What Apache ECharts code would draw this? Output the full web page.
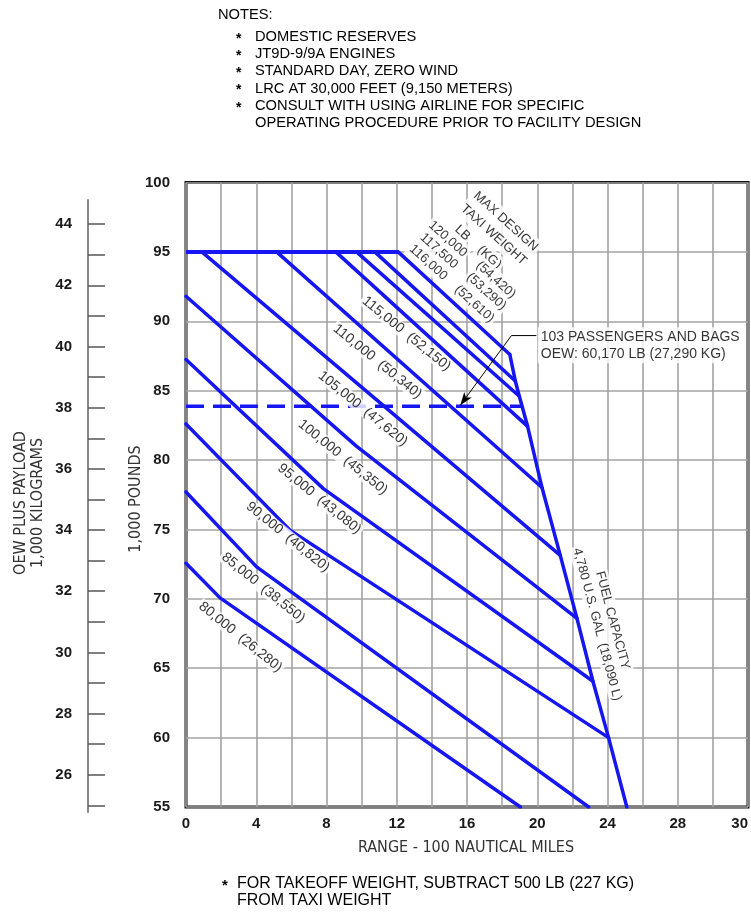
<!DOCTYPE html>
<html>
<head>
<meta charset="utf-8">
<script src="https://cdn.jsdelivr.net/npm/echarts@6/dist/echarts.min.js"></script>
<style>
html,body{margin:0;padding:0;background:#fff;}
#c{width:751px;height:916px;}
</style>
</head>
<body>
<div id="c"></div>
<script>
// ------------------------------------------------------------------
// DATA (range in 100 NM, OEW + payload in 1,000 LB)
// ------------------------------------------------------------------
const rangeLabelValues = [0, 4, 8, 12, 16, 20, 24, 28, 32];
const rangeLabelTexts  = ['0', '4', '8', '12', '16', '20', '24', '28', '30'];
const lbTicks          = [55, 60, 65, 70, 75, 80, 85, 90, 95, 100];
const kgTickValues     = [25, 26, 27, 28, 29, 30, 31, 32, 33, 34, 35, 36, 37, 38, 39, 40, 41, 42, 43, 44];
const kgLabelValues    = [26, 28, 30, 32, 34, 36, 38, 40, 42, 44];

const maxPayload = [[0, 95], [12.08, 95]];
const tw120000 = [[12.08, 95], [18.44, 87.6]];
const tw117500 = [[10.75, 95], [18.75, 85.7]];
const tw116000 = [[9.71, 95], [18.98, 84.6]];
const tw115000 = [[8.53, 95], [19.45, 82.43]];
const tw110000 = [[5.16, 95], [20.27, 78.02]];
const tw105000 = [[0.9, 95], [21.31, 73.13]];
const tw100000 = [[0, 91.8], [9.7, 81.0], [22.26, 68.59]];
const tw95000  = [[0, 87.24], [7.82, 77.94], [23.17, 64.06]];
const tw90000  = [[0, 82.6], [5.92, 74.95], [24.06, 60.0]];
const tw85000  = [[0, 77.7], [4.02, 72.3], [22.93, 55]];
const tw80000  = [[0, 72.56], [1.94, 70.07], [19.04, 55]];
const fuelCapacity = [[18.44, 87.6], [18.75, 85.7], [18.98, 84.6], [19.45, 82.43], [20.27, 78.02],
                      [21.31, 73.13], [22.26, 68.59], [23.17, 64.06], [24.06, 60.0], [25.1, 55]];
const oew103Pax = [[0, 83.88], [19.16, 83.88]];
const paxLeader = [[19.95, 88.97], [18.53, 88.97]];
const paxArrow  = [[18.53, 88.97], [15.62, 83.95]];

const weightLabels = [
  '115,000  (52,150)', '110,000  (50,340)', '105,000  (47,620)', '100,000  (45,350)',
  '95,000  (43,080)', '90,000  (40,820)', '85,000  (38,550)', '80,000  (26,280)'
];
const weightLabelAt = [
  [12.55, 89.1], [10.9, 87.1], [10.07, 83.7], [8.93, 80.2],
  [7.6, 77.2], [5.8, 74.45], [4.4, 70.8], [3.1, 67.25]
];
const maxTaxiTexts = ['MAX DESIGN\nTAXI WEIGHT', 'LB', '(KG)', '120,000', '117,500', '116,000', '(54,420)', '(53,290)', '(52,610)'];
const maxTaxiAt = [[17.86, 96.71], [15.74, 96.36], [17.27, 94.6], [14.91, 95.93], [14.40, 95.07], [13.80, 94.24],
                   [17.64, 92.98], [17.10, 92.15], [16.42, 91.25]];
const fuelText = 'FUEL CAPACITY\n4,780 U.S. GAL  (18,090 L)';
const fuelTextAt = [23.85, 68.3];
const paxText = '103 PASSENGERS AND BAGS\nOEW: 60,170 LB (27,290 KG)';
const paxTextAt = [20.03, 88.27];

const notesTitle = 'NOTES:';
const notesLines = ['DOMESTIC RESERVES', 'JT9D-9/9A ENGINES', 'STANDARD DAY, ZERO WIND',
                    'LRC AT 30,000 FEET (9,150 METERS)', 'CONSULT WITH USING AIRLINE FOR SPECIFIC',
                    'OPERATING PROCEDURE PRIOR TO FACILITY DESIGN'];
const notesBullets = [true, true, true, true, true, false];
const footLines = ['FOR TAKEOFF WEIGHT, SUBTRACT 500 LB (227 KG)', 'FROM TAXI WEIGHT'];

// ------------------------------------------------------------------
const W = 751, H = 916;
const GRID = {left: 186, right: 3, top: 182.5, bottom: 109};
const pxPerLb = (H - GRID.top - GRID.bottom) / 45;
const KG_TOP_PX = 200, KG_BOTTOM_PX = 812, KG_AXIS_X = 88;
const LB_PER_KG = 2.20462;
const kgMax = (100 - (KG_TOP_PX - GRID.top) / pxPerLb) / LB_PER_KG;
const kgMin = (55 - (KG_BOTTOM_PX - (H - GRID.bottom)) / pxPerLb) / LB_PER_KG;

const BLUE = '#1616f2';
const CAD = "'Liberation Sans', Arial, sans-serif";
const NARROW = "'Liberation Sans Narrow', 'DejaVu Sans Condensed', 'Liberation Sans', sans-serif";
const NUM = "'Liberation Sans', Arial, sans-serif";

function blueLine(name, data, extra) {
  return Object.assign({
    name: name, type: 'line', data: data, xAxisIndex: 0, yAxisIndex: 0,
    symbol: 'none', showSymbol: false, silent: true, clip: true,
    lineStyle: {color: BLUE, width: 3.5, cap: 'round', join: 'round'}, z: 3
  }, extra || {});
}

const annData = [];
weightLabels.forEach((t, i) => annData.push({value: weightLabelAt[i], label: {formatter: t, rotate: -39, fontSize: 14}}));
maxTaxiTexts.forEach((t, i) => annData.push({value: maxTaxiAt[i], label: {formatter: t, rotate: -42, fontSize: 13, lineHeight: 18}}));
annData.push({value: fuelTextAt, label: {formatter: fuelText, rotate: -75, fontSize: 13, lineHeight: 16}});
annData.push({value: paxTextAt, label: {formatter: paxText, rotate: 0, fontSize: 14, lineHeight: 17, align: 'left', padding: [1, 2, 1, 3]}});

const NOTE_FONT = '14.7px ' + CAD;
const FOOT_FONT = '16px ' + CAD;
const graphics = [];
graphics.push({type: 'text', x: 218, y: 15, style: {text: notesTitle, font: NOTE_FONT, fill: '#000', verticalAlign: 'middle'}});
notesLines.forEach((t, i) => {
  const y = 36.7 + i * 17.3;
  if (notesBullets[i]) graphics.push({type: 'text', x: 236, y: y + 2, style: {text: '*', font: 'bold 14px ' + CAD, fill: '#000', verticalAlign: 'middle'}});
  graphics.push({type: 'text', x: 255, y: y, style: {text: t, font: NOTE_FONT, fill: '#000', verticalAlign: 'middle'}});
});
graphics.push({type: 'text', x: 222, y: 886, style: {text: '*', font: 'bold 15px ' + CAD, fill: '#000', verticalAlign: 'middle'}});
footLines.forEach((t, i) => graphics.push({type: 'text', x: 237, y: 884 + i * 17, style: {text: t, font: FOOT_FONT, fill: '#000', verticalAlign: 'middle'}}));
graphics.push({type: 'text', x: 21, y: 503, rotation: Math.PI / 2, style: {text: 'OEW PLUS PAYLOAD', font: '16px ' + NARROW, fill: '#333', align: 'center', verticalAlign: 'middle'}});
graphics.push({type: 'text', x: 38, y: 503, rotation: Math.PI / 2, style: {text: '1,000 KILOGRAMS', font: '16px ' + NARROW, fill: '#333', align: 'center', verticalAlign: 'middle'}});
graphics.push({type: 'text', x: 136, y: 499, rotation: Math.PI / 2, style: {text: '1,000 POUNDS', font: '16px ' + NARROW, fill: '#333', align: 'center', verticalAlign: 'middle'}});
graphics.push({type: 'text', x: 466, y: 848, style: {text: 'RANGE - 100 NAUTICAL MILES', font: '16px ' + NARROW, fill: '#333', align: 'center', verticalAlign: 'middle'}});

const option = {
  animation: false,
  backgroundColor: '#fff',
  grid: [
    {left: GRID.left, right: GRID.right, top: GRID.top, bottom: GRID.bottom, show: true,
     borderColor: '#111', borderWidth: 3, backgroundColor: 'transparent', outerBoundsMode: 'none', containLabel: false},
    {left: KG_AXIS_X, width: 10, top: KG_TOP_PX, bottom: H - KG_BOTTOM_PX, show: false, outerBoundsMode: 'none', containLabel: false}
  ],
  xAxis: [
    {type: 'value', gridIndex: 0, min: 0, max: 32, interval: 2,
     axisLine: {show: false}, axisTick: {show: false},
     splitLine: {show: true, lineStyle: {color: '#a3a3a3', width: 1.6}},
     axisLabel: {show: true, customValues: rangeLabelValues, margin: 9, alignMaxLabel: 'right',
                 formatter: v => rangeLabelTexts[rangeLabelValues.indexOf(v)],
                 fontFamily: NUM, fontSize: 15, fontWeight: 'bold', color: '#1a1a1a'}},
    {type: 'value', gridIndex: 1, show: false, min: 0, max: 1}
  ],
  yAxis: [
    {type: 'value', gridIndex: 0, min: 55, max: 100, interval: 5,
     axisLine: {show: false}, axisTick: {show: false},
     splitLine: {show: true, lineStyle: {color: '#a3a3a3', width: 1.6}},
     axisLabel: {show: true, customValues: lbTicks, margin: 16, fontFamily: NUM, fontSize: 15, fontWeight: 'bold', color: '#1a1a1a'}},
    {type: 'value', gridIndex: 1, position: 'left', min: kgMin, max: kgMax,
     axisLine: {show: true, onZero: false, lineStyle: {color: '#888', width: 2}},
     axisTick: {show: true, inside: true, length: 17, customValues: kgTickValues, lineStyle: {color: '#555', width: 1.5}},
     splitLine: {show: false},
     axisLabel: {show: true, customValues: kgLabelValues, margin: 16, fontFamily: NUM, fontSize: 15, fontWeight: 'bold', color: '#1a1a1a'}}
  ],
  graphic: graphics,
  series: [
    blueLine('Max payload', maxPayload, {lineStyle: {color: BLUE, width: 4, cap: 'butt'}}),
    blueLine('120,000', tw120000),
    blueLine('117,500', tw117500),
    blueLine('116,000', tw116000),
    blueLine('115,000', tw115000),
    blueLine('110,000', tw110000),
    blueLine('105,000', tw105000),
    blueLine('100,000', tw100000),
    blueLine('95,000', tw95000),
    blueLine('90,000', tw90000),
    blueLine('85,000', tw85000),
    blueLine('80,000', tw80000),
    blueLine('Fuel capacity', fuelCapacity),
    blueLine('103 passengers', oew103Pax, {lineStyle: {color: BLUE, width: 3.5, type: [18, 9], cap: 'butt'}}),
    {name: 'leader', type: 'line', data: paxLeader, symbol: 'none', silent: true, z: 4,
     lineStyle: {color: '#000', width: 1},
     markLine: {silent: true, symbol: ['none', 'arrow'], symbolSize: [7, 13], label: {show: false},
                lineStyle: {color: '#000', width: 1, type: 'solid'},
                data: [[{coord: paxArrow[0]}, {coord: paxArrow[1]}]]}},
    {name: 'annotations', type: 'scatter', data: annData, symbolSize: 1, silent: true, z: 10,
     itemStyle: {color: 'transparent'},
     label: {show: true, position: 'inside', color: '#000', fontFamily: CAD, backgroundColor: '#fff',
             padding: [0, 2], align: 'center', verticalAlign: 'middle'}}
  ]
};

const chart = echarts.init(document.getElementById('c'), null, {renderer: 'canvas', width: W, height: H});
chart.setOption(option);
</script>
</body>
</html>
